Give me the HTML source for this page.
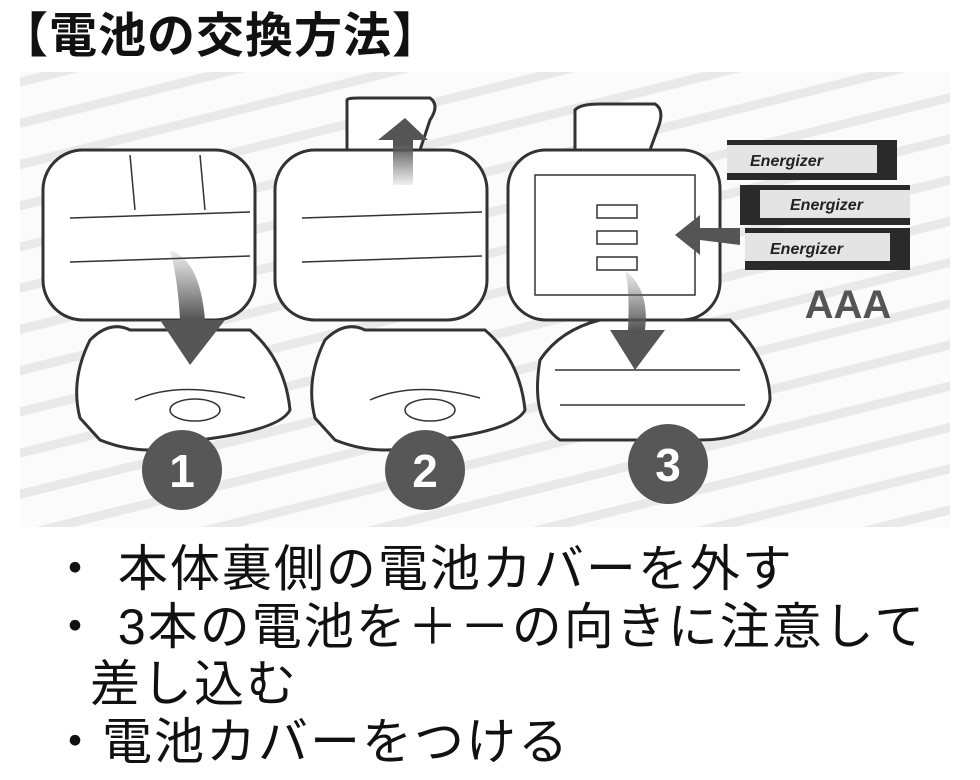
<!DOCTYPE html>
<html><head><meta charset="utf-8"><style>
body{margin:0;width:980px;height:780px;background:#fff;overflow:hidden;position:relative;font-family:"Liberation Sans","Noto Sans CJK JP",sans-serif}
.t{position:absolute;left:0px;top:-4px;font-size:48px;font-weight:bold;color:#111;letter-spacing:1px}
.b{position:absolute;font-size:50px;line-height:58px;color:#111;white-space:nowrap;letter-spacing:2px}
</style></head><body>
<svg width="980" height="780" style="position:absolute;left:0;top:0">
<defs>
<pattern id="st" width="60" height="40" patternUnits="userSpaceOnUse" patternTransform="rotate(-14)">
<rect width="60" height="40" fill="#fbfbfb"/><rect y="0" width="60" height="9" fill="#e9e9e9"/>
</pattern>
<linearGradient id="ag" x1="0" y1="0" x2="0" y2="1"><stop offset="0" stop-color="#666" stop-opacity="0.1"/><stop offset="0.6" stop-color="#555"/></linearGradient>
<linearGradient id="ag2" x1="0" y1="1" x2="0" y2="0"><stop offset="0" stop-color="#666" stop-opacity="0.1"/><stop offset="0.6" stop-color="#555"/></linearGradient>
</defs>
<rect x="20" y="72" width="930" height="455" fill="url(#st)"/>
<g fill="#fff" stroke="#333" stroke-width="3">
<path d="M80 418 Q70 380 90 340 Q110 320 130 330 L250 330 Q285 360 290 410 Q280 430 200 440 Q150 460 100 440 Z"/>
<rect x="43" y="150" width="212" height="170" rx="40"/>
<path d="M315 418 Q305 380 325 340 Q345 320 365 330 L485 330 Q520 360 525 410 Q515 430 435 440 Q385 460 335 440 Z"/>
<path d="M347 150 L347 100 Q347 98 360 98 L430 98 Q440 105 430 120 L420 150 Z"/>
<rect x="275" y="150" width="212" height="170" rx="40"/>
<path d="M540 360 Q560 330 600 320 L730 320 Q770 360 770 400 Q760 440 700 440 L560 440 Q530 420 540 360 Z"/>
<path d="M575 150 L575 110 Q580 104 600 104 L655 104 Q665 110 658 128 L650 150 Z"/>
<rect x="508" y="150" width="212" height="170" rx="38"/>
</g>
<g fill="none" stroke="#333" stroke-width="1.5">
<line x1="70" y1="218" x2="250" y2="212"/><line x1="70" y1="262" x2="250" y2="256"/>
<line x1="302" y1="218" x2="482" y2="212"/><line x1="302" y1="262" x2="482" y2="256"/>
<path d="M130 155 L135 210 M200 155 L205 210"/>
<path d="M135 400 Q180 380 245 398"/><ellipse cx="195" cy="410" rx="25" ry="11"/>
<path d="M370 400 Q415 380 480 398"/><ellipse cx="430" cy="410" rx="25" ry="11"/>
<rect x="535" y="175" width="160" height="120"/>
<rect x="597" y="205" width="40" height="13"/><rect x="597" y="231" width="40" height="13"/><rect x="597" y="257" width="40" height="13"/>
<path d="M555 370 L740 370 M560 405 L745 405"/>
</g>
<path d="M170 250 Q200 260 205 320 L225 320 L190 365 L160 320 L180 320 Q178 280 170 250Z" fill="url(#ag)"/>
<path d="M393 185 L393 140 L378 140 L405 118 L428 140 L413 140 L413 185Z" fill="url(#ag2)"/>
<path d="M625 270 Q650 290 645 330 L665 330 L635 370 L610 330 L628 330 Q630 290 625 270Z" fill="url(#ag)"/>
<path d="M740 245 L700 240 L700 255 L675 235 L700 215 L700 228 L740 228Z" fill="#555"/>
<g>
<rect x="727" y="140" width="170" height="40" fill="#2a2a2a"/><rect x="727" y="145" width="150" height="28" fill="#e4e4e4"/>
<rect x="740" y="185" width="170" height="40" fill="#2a2a2a"/><rect x="760" y="190" width="150" height="28" fill="#e4e4e4"/>
<rect x="745" y="228" width="165" height="42" fill="#2a2a2a"/><rect x="745" y="233" width="145" height="28" fill="#e4e4e4"/>
<text x="750" y="166" font-size="16" font-style="italic" font-weight="bold" fill="#222">Energizer</text>
<text x="790" y="210" font-size="16" font-style="italic" font-weight="bold" fill="#222">Energizer</text>
<text x="770" y="254" font-size="16" font-style="italic" font-weight="bold" fill="#222">Energizer</text>
</g>
<text x="848" y="318" font-size="40" font-weight="bold" fill="#555" text-anchor="middle">AAA</text>
<g fill="#575757"><circle cx="182" cy="470" r="40"/><circle cx="425" cy="470" r="40"/><circle cx="668" cy="464" r="40"/></g>
<g fill="#fff" font-size="46" font-weight="bold" text-anchor="middle">
<text x="182" y="487">1</text><text x="425" y="487">2</text><text x="668" y="481">3</text></g>
</svg>
<div class="t">【電池の交換方法】</div>
<div class="b" style="left:50px;top:540px">・ 本体裏側の電池カバーを外す</div>
<div class="b" style="left:50px;top:598px">・ 3本の電池を＋－の向きに注意して</div>
<div class="b" style="left:90px;top:655px">差し込む</div>
<div class="b" style="left:50px;top:713px">・電池カバーをつける</div>
</body></html>
